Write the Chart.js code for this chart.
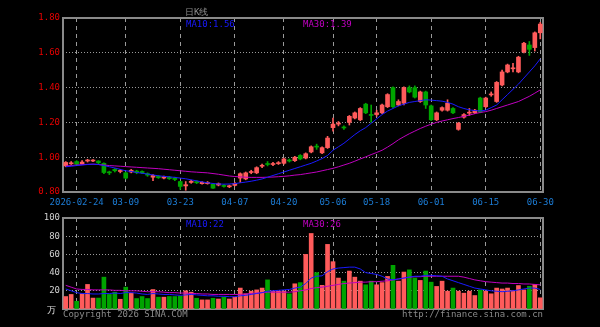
<!DOCTYPE html>
<html>
<head>
<meta charset="utf-8">
<script src="https://cdn.jsdelivr.net/npm/chart.js@4.4.1/dist/chart.umd.min.js"></script>
<style>
  html, body { margin: 0; padding: 0; background: #000; }
  #wrap { position: relative; width: 600px; height: 327px; overflow: hidden; background: #000;
          font-family: "DejaVu Sans Mono", monospace; font-size: 9px; }
  #wrap canvas { position: absolute; left: 0; }
  .txt { position: absolute; white-space: nowrap; line-height: 10px; }
</style>
</head>
<body>
<div id="wrap">
  <canvas id="priceChart" width="600" height="210" style="top:0"></canvas>
  <canvas id="volChart" width="600" height="119" style="top:208px"></canvas>
  <div class="txt" style="left:185px;top:7px;color:#8c8c8c">日K线</div>
  <div class="txt" style="left:186px;top:19px;color:#1a1aff">MA10:1.56</div>
  <div class="txt" style="left:303px;top:19px;color:#c000c0">MA30:1.39</div>
  <div class="txt" style="left:186px;top:219px;color:#1a1aff">MA10:22</div>
  <div class="txt" style="left:303px;top:219px;color:#c000c0">MA30:26</div>
  <div class="txt" style="left:47px;top:305px;color:#e0e0e0">万</div>
  <div class="txt" style="left:63px;top:309px;color:#8a8a8a">Copyright 2026 SINA.COM</div>
  <div class="txt" style="right:57px;top:309px;color:#8a8a8a">http://finance.sina.com.cn</div>
</div>
<script>
const dates = ['2026-02-12','2026-02-13','2026-02-24','2026-02-25','2026-02-26','2026-02-27',
  '2026-03-02','2026-03-03','2026-03-04','2026-03-05','2026-03-06','2026-03-09','2026-03-10','2026-03-11','2026-03-12','2026-03-13',
  '2026-03-16','2026-03-17','2026-03-18','2026-03-19','2026-03-20','2026-03-23','2026-03-24','2026-03-25','2026-03-26','2026-03-27',
  '2026-03-30','2026-03-31','2026-04-01','2026-04-02','2026-04-03','2026-04-07','2026-04-08','2026-04-09','2026-04-10',
  '2026-04-13','2026-04-14','2026-04-15','2026-04-16','2026-04-17','2026-04-20','2026-04-21','2026-04-22','2026-04-23','2026-04-24',
  '2026-04-27','2026-04-28','2026-04-29','2026-04-30','2026-05-06','2026-05-07','2026-05-08',
  '2026-05-11','2026-05-12','2026-05-13','2026-05-14','2026-05-15','2026-05-18','2026-05-19','2026-05-20','2026-05-21','2026-05-22',
  '2026-05-25','2026-05-26','2026-05-27','2026-05-28','2026-05-29','2026-06-01','2026-06-02','2026-06-03','2026-06-04','2026-06-05',
  '2026-06-08','2026-06-09','2026-06-10','2026-06-11','2026-06-12','2026-06-15','2026-06-16','2026-06-17','2026-06-18',
  '2026-06-22','2026-06-23','2026-06-24','2026-06-25','2026-06-26','2026-06-29','2026-06-30'];

const tickDates = ['2026-02-24','2026-03-09','2026-03-23','2026-04-07','2026-04-20','2026-05-06','2026-05-18','2026-06-01','2026-06-15','2026-06-30'];
const tickLabels = ['2026-02-24','03-09','03-23','04-07','04-20','05-06','05-18','06-01','06-15','06-30'];

const open = [0.95,0.962,0.975,0.962,0.978,0.978,0.978,0.965,0.913,0.93,0.918,0.91,0.915,0.92,0.918,0.905,0.885,0.89,0.88,0.885,
  0.88,0.86,0.835,0.855,0.86,0.848,0.848,0.845,0.84,0.838,0.83,0.838,0.88,0.875,0.912,0.91,0.948,0.962,0.958,0.963,
  0.965,0.982,0.98,1.01,0.995,1.03,1.062,1.025,1.055,1.17,1.19,1.172,1.20,1.225,1.215,1.305,1.245,1.245,1.255,1.29,
  1.40,1.30,1.31,1.40,1.40,1.32,1.375,1.295,1.215,1.27,1.27,1.28,1.16,1.23,1.253,1.255,1.34,1.29,1.358,1.32,
  1.415,1.49,1.508,1.49,1.605,1.645,1.63,1.715];
const high = [0.975,0.975,0.98,0.98,0.988,0.986,0.98,0.968,0.92,0.935,0.93,0.915,0.93,0.925,0.922,0.91,0.90,0.895,0.892,0.89,
  0.885,0.862,0.86,0.868,0.865,0.86,0.86,0.85,0.852,0.842,0.84,0.855,0.91,0.915,0.925,0.945,0.96,0.975,0.97,0.975,
  0.995,0.99,1.005,1.015,1.025,1.065,1.075,1.06,1.12,1.225,1.205,1.18,1.24,1.26,1.285,1.31,1.30,1.27,1.305,1.365,
  1.405,1.33,1.405,1.41,1.41,1.38,1.38,1.30,1.26,1.29,1.33,1.285,1.20,1.25,1.28,1.275,1.345,1.345,1.375,1.435,
  1.50,1.535,1.54,1.58,1.66,1.665,1.72,1.775];
const low = [0.945,0.958,0.955,0.958,0.972,0.974,0.962,0.905,0.90,0.915,0.91,0.875,0.91,0.905,0.905,0.89,0.865,0.878,0.875,0.872,
  0.865,0.815,0.81,0.85,0.848,0.845,0.845,0.82,0.835,0.828,0.825,0.835,0.855,0.87,0.905,0.905,0.94,0.95,0.952,0.958,
  0.96,0.972,0.975,0.985,0.99,1.025,1.045,1.02,1.05,1.15,1.18,1.16,1.185,1.22,1.21,1.25,1.20,1.235,1.25,1.285,
  1.285,1.295,1.30,1.37,1.34,1.315,1.28,1.21,1.21,1.265,1.265,1.25,1.155,1.225,1.24,1.25,1.255,1.285,1.35,1.315,
  1.41,1.485,1.49,1.485,1.60,1.585,1.61,1.68];
const close = [0.97,0.968,0.96,0.972,0.982,0.982,0.968,0.912,0.91,0.922,0.922,0.88,0.925,0.912,0.91,0.897,0.895,0.882,0.888,0.877,
  0.872,0.832,0.842,0.862,0.853,0.856,0.855,0.822,0.848,0.832,0.834,0.85,0.905,0.91,0.916,0.94,0.952,0.958,0.962,0.967,
  0.99,0.978,1.00,0.99,1.02,1.06,1.058,1.055,1.11,1.19,1.195,1.168,1.235,1.255,1.28,1.255,1.24,1.255,1.30,1.36,
  1.29,1.32,1.40,1.375,1.345,1.375,1.30,1.215,1.255,1.285,1.31,1.255,1.195,1.245,1.257,1.27,1.26,1.34,1.362,1.43,
  1.49,1.53,1.512,1.575,1.655,1.62,1.715,1.765];

const priceMa10 = [0.945,0.948,0.952,0.955,0.958,0.96,0.958,0.952,0.945,0.938,0.93,0.922,0.918,0.912,0.908,0.903,0.898,0.893,0.89,0.887,
  0.884,0.88,0.876,0.87,0.864,0.858,0.853,0.849,0.846,0.845,0.846,0.848,0.853,0.857,0.862,0.868,0.875,0.885,0.895,0.905,
  0.915,0.925,0.935,0.945,0.955,0.965,0.978,0.992,1.01,1.04,1.06,1.08,1.105,1.13,1.152,1.17,1.195,1.22,1.245,1.265,
  1.28,1.295,1.305,1.315,1.32,1.325,1.33,1.328,1.325,1.322,1.315,1.305,1.29,1.28,1.272,1.268,1.266,1.27,1.285,1.30,
  1.33,1.36,1.39,1.42,1.455,1.49,1.525,1.565];
const priceMa30 = [0.95,0.952,0.955,0.957,0.959,0.96,0.958,0.955,0.952,0.95,0.948,0.946,0.944,0.942,0.94,0.938,0.936,0.934,0.931,0.928,
  0.925,0.922,0.919,0.916,0.914,0.912,0.91,0.906,0.902,0.897,0.892,0.889,0.887,0.885,0.884,0.884,0.884,0.885,0.886,0.888,
  0.89,0.893,0.897,0.90,0.905,0.91,0.915,0.922,0.929,0.936,0.945,0.955,0.965,0.977,0.99,1.002,1.015,1.027,1.04,1.058,
  1.078,1.10,1.118,1.135,1.15,1.165,1.178,1.19,1.20,1.208,1.215,1.222,1.228,1.235,1.242,1.25,1.257,1.262,1.27,1.28,
  1.29,1.30,1.31,1.32,1.335,1.35,1.368,1.387];

const volume = [13.7,16,8.5,16.7,27,12,12,35,16,18.5,10.7,24,17.4,11.5,13.7,11.5,21.4,13,13,13.7,
  13.7,14,20,18.5,11.8,10,10,11.8,11,13,11,13,23,16.7,19.6,21,23,32,19.6,19.6,
  19.6,16.7,27.7,29,60,83,40,26,71,52,34,30.6,41.7,35,30.6,26.6,30.6,26.6,29,35.8,
  48,30.6,40.6,43,34,31.4,41.7,29.5,24.8,30.6,19.6,23,19.6,17.4,19.6,14.8,21,19.6,16.7,23,
  22,23,20.3,25.8,21,25,27,12.3];
const volMa10 = [22,20,18,17,17,16.5,16.5,17,17,17.5,17,18,18,17.5,16.5,16,17,16.5,16,16,
  15.5,15,15.5,16,15.5,15,14.5,14.5,14,14,13.5,13.5,14.5,15,16,17,18,19.5,20,20.5,
  21,21.5,23,24,28,34,36,36.5,41,44,45,45.5,46,46,44,40,39,38,36,33,
  32,33,34,35,36,36,37,37,36.5,36,33,31,29,27,25,23,22,21,20,19.5,
  19,19.5,20,21,22,23,23,21.5];
const volMa30 = [26,24,22,21.5,21.5,21,21,21,21,20.5,20.5,20,20,20,19.5,19,19,19,18.5,18,
  18,17.5,17.5,17,17,16.5,16.5,16,16,16,16,16,16,16.5,17,17.5,18,18.5,18.5,18.5,
  18.5,18.5,19,20,21,22.5,23.5,24,25,26,27,28,28.5,29,29.5,29.5,30,30,30.5,31,
  32,33,34,35,35.5,35.5,36,36,36,36,36,36,36,35,33.5,32,31,30,29.5,29,
  28.5,28.5,28,28,27.5,27.5,27,26.5];

const upColor = '#ff5b5b';
const downColor = '#00a400';
const candleColors = close.map((c, i) => c >= open[i] ? upColor : downColor);
const monoFont = 'DejaVu Sans Mono';

const framePlugin = {
  id: 'frame',
  beforeDatasetsDraw(chart) {
    const { ctx, chartArea: a } = chart;
    ctx.save();
    ctx.strokeStyle = '#8a8a8a';
    ctx.lineWidth = 2;
    ctx.strokeRect(Math.round(a.left), Math.round(a.top), Math.round(a.right - a.left), Math.round(a.bottom - a.top));
    ctx.restore();
  }
};

function xAxis(showLabels) {
  return {
    ticks: {
      display: showLabels,
      autoSkip: false,
      maxRotation: 0,
      color: '#1c7cd5',
      font: { family: monoFont, size: 9 },
      padding: 5,
      callback: (v, i) => {
        const k = tickDates.indexOf(dates[i]);
        return k >= 0 ? tickLabels[k] : '';
      }
    },
    grid: {
      offset: false,
      drawTicks: false,
      color: ctx => tickDates.includes(dates[ctx.index]) ? '#9a9a9a' : 'rgba(0,0,0,0)'
    },
    border: { display: false, dash: [4, 4] },
    afterFit: s => { s.height = 18; }
  };
}

const priceChart = new Chart(document.getElementById('priceChart'), {
  type: 'bar',
  data: {
    labels: dates,
    datasets: [
      { type: 'line', data: priceMa10, borderColor: '#1a1aff', borderWidth: 1, pointRadius: 0, order: 1 },
      { type: 'line', data: priceMa30, borderColor: '#c000c0', borderWidth: 1, pointRadius: 0, order: 2 },
      { data: dates.map((d, i) => [low[i], high[i]]), backgroundColor: candleColors, barThickness: 1, grouped: false, order: 4 },
      { data: dates.map((d, i) => [open[i], close[i]]), backgroundColor: candleColors, barThickness: 4, grouped: false, minBarLength: 1, order: 3 }
    ]
  },
  options: {
    responsive: false,
    animation: false,
    layout: { padding: { left: 0, right: 57, top: 18, bottom: 0 } },
    plugins: { legend: { display: false }, tooltip: { enabled: false } },
    scales: {
      x: xAxis(true),
      y: {
        min: 0.8, max: 1.8,
        ticks: { stepSize: 0.2, color: '#e80000', font: { family: monoFont, size: 9 }, padding: 3, callback: v => v.toFixed(2) },
        grid: { color: '#9a9a9a', drawTicks: false },
        border: { display: false, dash: [1, 2] },
        afterFit: s => { s.width = 63; }
      }
    }
  },
  plugins: [framePlugin]
});

const volChart = new Chart(document.getElementById('volChart'), {
  type: 'bar',
  data: {
    labels: dates,
    datasets: [
      { type: 'line', data: volMa10, borderColor: '#1a1aff', borderWidth: 1, pointRadius: 0, order: 1 },
      { type: 'line', data: volMa30, borderColor: '#c000c0', borderWidth: 1, pointRadius: 0, order: 2 },
      { data: volume, backgroundColor: candleColors, barThickness: 4, order: 3 }
    ]
  },
  options: {
    responsive: false,
    animation: false,
    layout: { padding: { left: 0, right: 57, top: 10, bottom: 0 } },
    plugins: { legend: { display: false }, tooltip: { enabled: false } },
    scales: {
      x: xAxis(false),
      y: {
        min: 0, max: 100,
        ticks: { stepSize: 20, color: '#d0d0d0', font: { family: monoFont, size: 9 }, padding: 3, callback: v => v === 0 ? '' : v },
        grid: { color: '#9a9a9a', drawTicks: false },
        border: { display: false, dash: [1, 2] },
        afterFit: s => { s.width = 63; }
      }
    }
  },
  plugins: [framePlugin]
});
</script>
</body>
</html>
